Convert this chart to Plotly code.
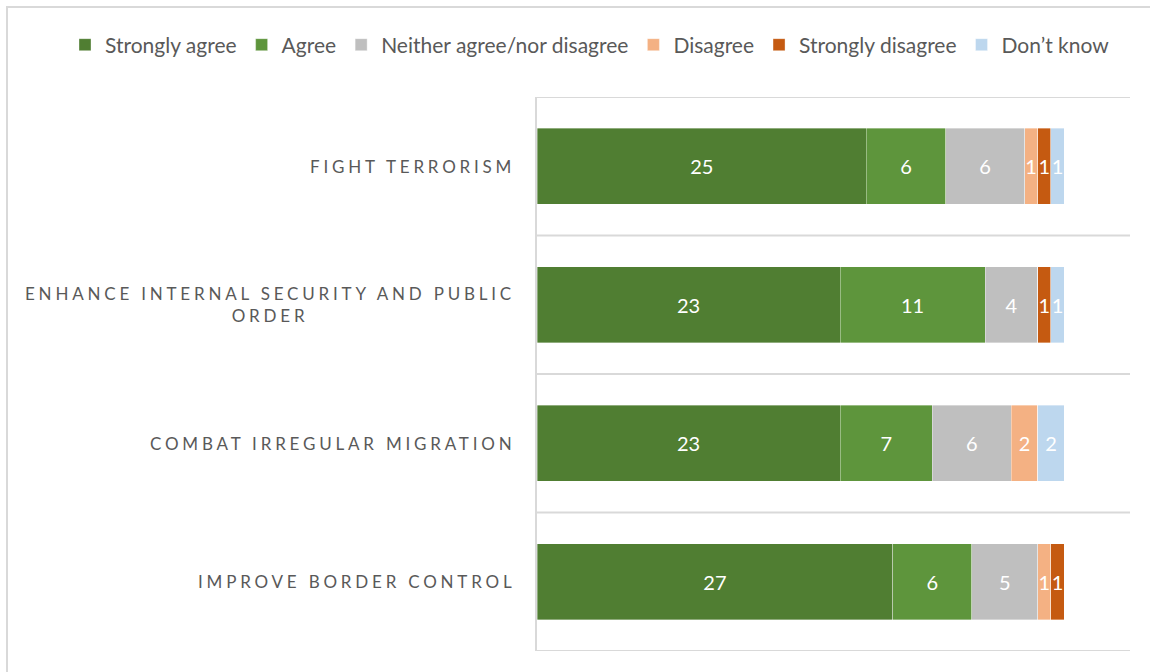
import plotly.graph_objects as go

categories = ["FIGHT TERRORISM", "ENHANCE INTERNAL SECURITY AND PUBLIC<br>ORDER",
              "COMBAT IRREGULAR MIGRATION", "IMPROVE BORDER CONTROL"]
series_names = ["Strongly agree", "Agree", "Neither agree/nor disagree",
                "Disagree", "Strongly disagree", "Don\u2019t know"]
strongly_agree = [25, 23, 23, 27]
agree = [6, 11, 7, 6]
neither = [6, 4, 6, 5]
disagree = [1, 0, 2, 1]
strongly_disagree = [1, 1, 0, 1]
dont_know = [1, 1, 2, 0]
series_values = [strongly_agree, agree, neither, disagree, strongly_disagree, dont_know]
colors = ["#507E32", "#5E953C", "#BFBFBF", "#F4B183", "#C55A11", "#BDD7EE"]

W, H = 1150, 672
L, R, T, B = 537, 20, 97, 21
PW, PH = W - L - R, H - T - B

def px_x(x):
    return (x - L) / PW

def px_y(y):
    return (H - B - y) / PH

FONT = "Lato, 'Open Sans', sans-serif"
TXT = "#595959"
GRID = "#D9D9D9"

fig = go.Figure()
for name, vals, col in zip(series_names, series_values, colors):
    fig.add_trace(go.Bar(
        y=list(range(len(categories))), x=vals, name=name, orientation="h",
        marker=dict(color=col, line=dict(color="rgba(255,255,255,0.45)", width=0.8)),
        text=[str(v) if v else "" for v in vals],
        textposition="inside", insidetextanchor="middle", textangle=0,
        constraintext="none",
        textfont=dict(color="white", size=20, family=FONT),
        hoverinfo="x+name",
    ))

shapes = []
for i in range(len(categories) + 1):
    shapes.append(dict(type="line", xref="paper", yref="y", x0=0, x1=1,
                       y0=i - 0.5, y1=i - 0.5, line=dict(color=GRID, width=2)))
# outer chart border (only top and left edges fall inside the picture)
shapes.append(dict(type="rect", xref="paper", yref="paper", layer="above",
                   x0=px_x(7), x1=px_x(W + 20), y0=px_y(7), y1=px_y(H + 20),
                   fillcolor="rgba(0,0,0,0)",
                   line=dict(color=GRID, width=2)))

annotations = []
for i, c in enumerate(categories):
    annotations.append(dict(
        xref="paper", yref="y", x=0, y=i, xanchor="right", yanchor="middle",
        xshift=-20, align="center", showarrow=False,
        text="<span style='letter-spacing:3.8px'>" + c + "</span>",
        font=dict(size=17, color=TXT, family=FONT),
    ))

fig.update_layout(
    width=W, height=H, barmode="stack", bargap=0.45,
    plot_bgcolor="white", paper_bgcolor="white",
    margin=dict(l=L, r=R, t=T, b=B),
    font=dict(family=FONT, color=TXT),
    showlegend=True,
    legend=dict(orientation="h", x=px_x(65), xanchor="left",
                y=px_y(45), yanchor="middle",
                font=dict(size=21, color=TXT, family=FONT),
                itemwidth=30, tracegroupgap=0, traceorder="normal"),
    shapes=shapes, annotations=annotations,
)
fig.update_xaxes(range=[0, 45], showgrid=False, showticklabels=False, zeroline=False,
                 showline=False, ticks="")
fig.update_yaxes(range=[len(categories) - 0.5, -0.5], showgrid=False, showticklabels=False,
                 zeroline=False, showline=True, linecolor=GRID, linewidth=2, ticks="")

fig.write_html("out.html", config={"displayModeBar": False},
               post_script="document.body.style.margin='0';")
